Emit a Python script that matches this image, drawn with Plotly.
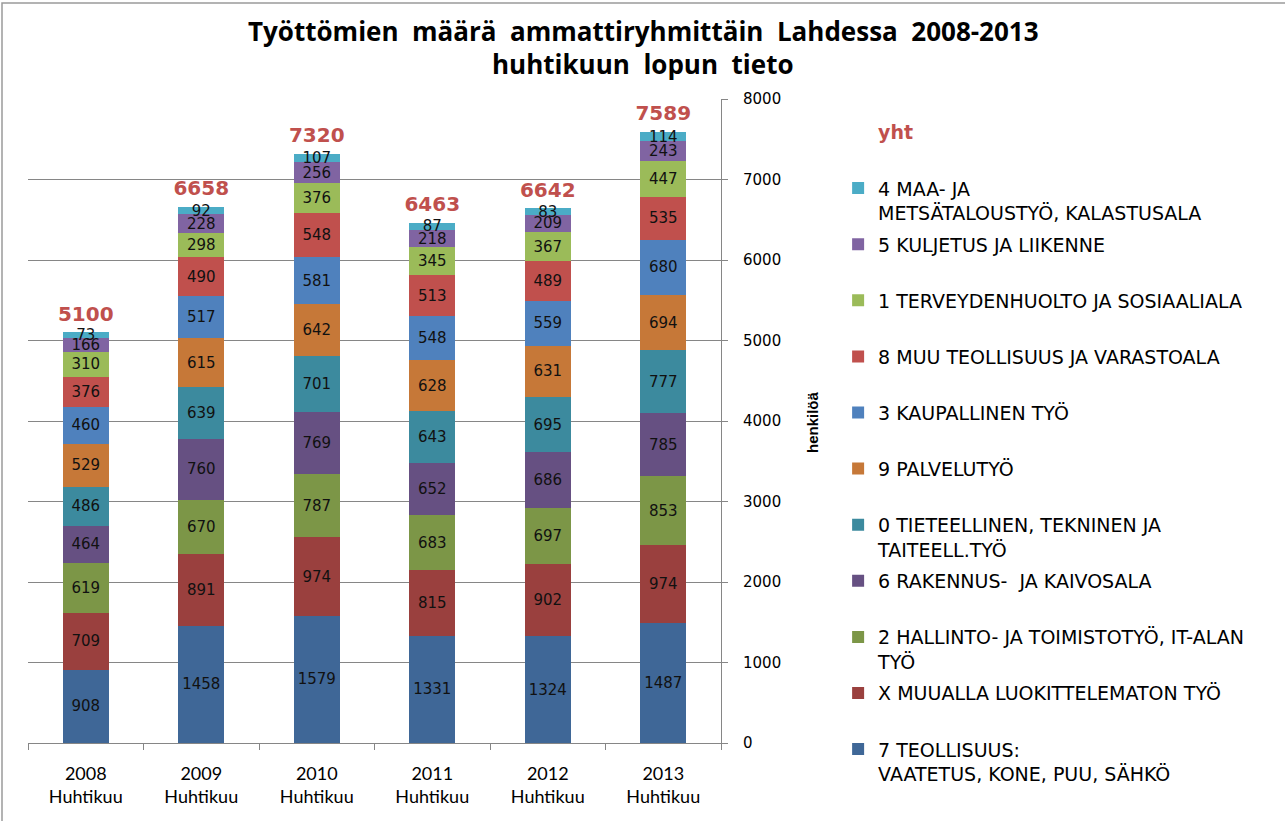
import plotly.graph_objects as go

# Categories (x axis)
years = ["2008", "2009", "2010", "2011", "2012", "2013"]
month = "Huhtikuu"
categories = [f"{y}<br>{month}" for y in years]

# Occupational groups, bottom of stack first
groups = [
    "7 TEOLLISUUS:<br>VAATETUS, KONE, PUU, SÄHKÖ",
    "X MUUALLA LUOKITTELEMATON TYÖ",
    "2 HALLINTO- JA TOIMISTOTYÖ, IT-ALAN<br>TYÖ",
    "6 RAKENNUS-  JA KAIVOSALA",
    "0 TIETEELLINEN, TEKNINEN JA<br>TAITEELL.TYÖ",
    "9 PALVELUTYÖ",
    "3 KAUPALLINEN TYÖ",
    "8 MUU TEOLLISUUS JA VARASTOALA",
    "1 TERVEYDENHUOLTO JA SOSIAALIALA",
    "5 KULJETUS JA LIIKENNE",
    "4 MAA- JA<br>METSÄTALOUSTYÖ, KALASTUSALA",
]

# Unemployed persons per group, 2008..2013
teollisuus = [908, 1458, 1579, 1331, 1324, 1487]
muualla = [709, 891, 974, 815, 902, 974]
hallinto = [619, 670, 787, 683, 697, 853]
rakennus = [464, 760, 769, 652, 686, 785]
tieteellinen = [486, 639, 701, 643, 695, 777]
palvelu = [529, 615, 642, 628, 631, 694]
kaupallinen = [460, 517, 581, 548, 559, 680]
muu_teollisuus = [376, 490, 548, 513, 489, 535]
terveydenhuolto = [310, 298, 376, 345, 367, 447]
kuljetus = [166, 228, 256, 218, 209, 243]
maatalous = [73, 92, 107, 87, 83, 114]

# Totals ("yht")
yht = [5100, 6658, 7320, 6463, 6642, 7589]

series = [teollisuus, muualla, hallinto, rakennus, tieteellinen, palvelu,
          kaupallinen, muu_teollisuus, terveydenhuolto, kuljetus, maatalous]

colors = ["#3F6797", "#9A403E", "#7C9647", "#665082", "#3C8A9E", "#C67838",
          "#4F81BD", "#C0504D", "#9BBB59", "#8064A2", "#4BACC6"]

TOTAL_COLOR = "#C0504D"

fig = go.Figure()

n = len(groups)
for i, (name, vals, col) in enumerate(zip(groups, series, colors)):
    # pad every legend entry to two lines so the legend rows are evenly spaced
    label = name if "<br>" in name else name + "<br>&nbsp;"
    fig.add_trace(go.Bar(
        x=categories, y=vals, name=label,
        legendgroup=f"g{i}",
        legendrank=100 + (n - i),  # top of the stack first in the legend
        marker=dict(color=col, line=dict(width=0)),
        text=[str(v) for v in vals],
        textposition="inside",
        insidetextanchor="middle",
        textangle=0,
        textfont=dict(family="DejaVu Sans", size=15, color="#111111"),
        hoverinfo="x+y+name",
    ))

fig.add_trace(go.Scatter(
    x=categories, y=yht,
    name=f"<span style='color:{TOTAL_COLOR}'><b>yht</b></span><br>&nbsp;",
    legendgroup="g_yht",
    legendrank=1,
    mode="markers+text",
    marker=dict(size=9, color="rgba(0,0,0,0)"),
    text=[str(v) for v in yht],
    textposition="top center",
    textfont=dict(family="DejaVu Sans", size=20, color=TOTAL_COLOR, weight="bold"),
    cliponaxis=False,
))

L, R, T, B = 28, 564, 99, 78
W, H = 1285, 821
PW, PH = W - L - R, H - T - B

fig.update_layout(
    width=W, height=H,
    margin=dict(l=L, r=R, t=T, b=B, autoexpand=False),
    paper_bgcolor="white", plot_bgcolor="white",
    barmode="stack", bargap=0.6,
    uniformtext=dict(minsize=15, mode="show"),
    xaxis=dict(
        type="category",
        showline=True, linecolor="#868686", linewidth=1,
        ticks="outside", ticklen=6, tickcolor="#868686", tickson="boundaries",
        tickfont=dict(family="Lato", size=18, color="black"),
        ticklabelstandoff=14,
        showgrid=False,
    ),
    yaxis=dict(
        side="right", range=[0, 8000], dtick=1000,
        showline=True, linecolor="#868686", linewidth=1,
        ticks="outside", ticklen=6, tickcolor="#868686",
        showgrid=True, gridcolor="#868686", gridwidth=1,
        zeroline=False,
        ticklabelstandoff=12,
        tickfont=dict(family="DejaVu Sans", size=15, color="black"),
    ),
    legend=dict(
        x=1.169, xanchor="left", xref="paper",
        y=0.978, yanchor="top", yref="paper",
        traceorder="grouped",
        tracegroupgap=3.7,
        valign="top",
        maxheight=770,
        font=dict(family="DejaVu Sans", size=19, color="black"),
        itemclick=False, itemdoubleclick=False,
        bgcolor="rgba(0,0,0,0)",
    ),
    showlegend=True,
)

# two-line chart title
title_font = dict(family="Open Sans", size=26, color="black", weight="bold")
fig.add_annotation(
    text="Työttömien  määrä  ammattiryhmittäin  Lahdessa  2008-2013",
    xref="paper", yref="paper", x=(643 - L) / PW, y=1 + (T - 31) / PH,
    xanchor="center", yanchor="middle", showarrow=False, font=title_font,
)
fig.add_annotation(
    text="huhtikuun  lopun  tieto",
    xref="paper", yref="paper", x=(643 - L) / PW, y=1 + (T - 64) / PH,
    xanchor="center", yanchor="middle", showarrow=False, font=title_font,
)

# axis title for the value axis
fig.add_annotation(
    text="<b>henkilöä</b>", textangle=-90,
    xref="paper", yref="paper", x=(812 - L) / PW, y=(H - B - 422) / PH,
    xanchor="center", yanchor="middle",
    showarrow=False,
    font=dict(family="Liberation Sans Narrow, Liberation Sans", size=15, color="black"),
)

# chart-area frame (top and left edges inside the page)
fig.add_shape(
    type="rect", xref="paper", yref="paper",
    x0=(2 - L) / PW, x1=(W + 10 - L) / PW,
    y0=-(B + 10) / PH, y1=1 + (T - 3) / PH,
    line=dict(color="#9a9a9a", width=1.5), layer="below",
)

fig.write_html("out.html")
